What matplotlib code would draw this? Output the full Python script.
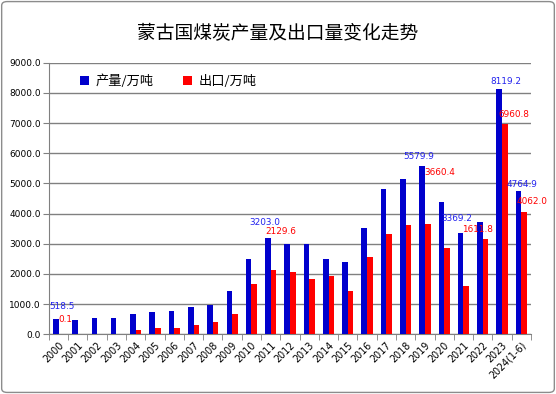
import matplotlib
matplotlib.use("Agg")
import matplotlib.pyplot as plt
from matplotlib.patches import FancyBboxPatch
import numpy as np

plt.rcParams['font.family'] = ['Noto Sans CJK SC', 'DejaVu Sans']

years = ['2000', '2001', '2002', '2003', '2004', '2005', '2006', '2007', '2008', '2009',
         '2010', '2011', '2012', '2013', '2014', '2015', '2016', '2017', '2018', '2019',
         '2020', '2021', '2022', '2023', '2024(1-6)']
output = [518.5, 470, 552, 552, 674, 751, 784, 917, 972, 1447,
          2507, 3203.0, 3003, 3003, 2496, 2396, 3522, 4814, 5157, 5579.9,
          4384, 3369.2, 3721, 8119.2, 4764.9]
export = [0.1, 0, 0, 0, 155, 221, 221, 320, 420, 685,
          1678, 2129.6, 2076, 1844, 1943, 1447, 2573, 3335, 3633, 3660.4,
          2871, 1611.8, 3169, 6960.8, 4062.0]

# which points get a value label, with pixel offsets (dx, dy) from bar top
blue_labels = {0: (6, 12), 11: (-3, 15), 19: (-3, 9), 21: (-4, 14), 23: (7, 8), 24: (3, 6)}
red_labels = {0: (4, 15), 11: (7, 39), 19: (12, 51), 21: (11, 56), 23: (9, 10), 24: (8, 10)}

blue = '#0000cc'
red = '#ff0000'

fig = plt.figure(figsize=(5.56, 3.94), dpi=100)
ax = fig.add_axes([0.088, 0.1515, 0.867, 0.6894])

x = np.arange(len(years))
w = 0.29
ax.bar(x - w / 2, output, w, color=blue, label='产量/万吨', zorder=3)
ax.bar(x + w / 2, export, w, color=red, label='出口/万吨', zorder=3)

for i, (dx, dy) in blue_labels.items():
    ax.annotate(f'{output[i]:.1f}', (x[i] - w / 2, output[i]), xytext=(dx, dy),
                textcoords='offset pixels', ha='center', va='center',
                fontsize=6.4, color='#2222ee', family='DejaVu Sans', zorder=4)
for i, (dx, dy) in red_labels.items():
    ax.annotate(f'{export[i]:.1f}', (x[i] + w / 2, export[i]), xytext=(dx, dy),
                textcoords='offset pixels', ha='center', va='center',
                fontsize=6.4, color=red, family='DejaVu Sans', zorder=4)

ax.set_xlim(-0.5, len(years) - 0.5)
ax.set_ylim(0, 9000)
ax.set_yticks(np.arange(0, 9001, 1000))
ax.set_yticklabels([f'{v:.1f}' for v in np.arange(0, 9001, 1000)], family='DejaVu Sans', fontsize=6.5)
ax.set_xticks(x)
ax.set_xticklabels(years, rotation=45, ha='right', rotation_mode='anchor', fontsize=6.9, family='DejaVu Sans')
ax.set_xticks(np.arange(-0.5, len(years)), minor=True)
ax.tick_params(axis='x', which='major', length=0, pad=4)
ax.tick_params(axis='x', which='minor', length=4, color='#808080')
ax.tick_params(axis='y', length=4, color='#808080', pad=2)

ax.grid(axis='y', color='#808080', linewidth=1, zorder=0)
for s in ['top', 'right']:
    ax.spines[s].set_visible(False)
for s in ['left', 'bottom']:
    ax.spines[s].set_color('#808080')

ax.legend(loc='upper left', bbox_to_anchor=(0.04, 1.0), ncol=2, frameon=False, fontsize=9.5,
          handlelength=0.7, handleheight=0.7, handletextpad=0.5, columnspacing=2.2)

fig.text(0.5, 0.915, '蒙古国煤炭产量及出口量变化走势', ha='center', va='center', fontsize=13.5)

border = FancyBboxPatch((0.003, 0.004), 0.994, 0.992, boxstyle='round,pad=0,rounding_size=0.01',
                        transform=fig.transFigure, fill=False, edgecolor='#8c8c8c', linewidth=1.0)
fig.patches.append(border)

fig.savefig('out.png', dpi=100)
